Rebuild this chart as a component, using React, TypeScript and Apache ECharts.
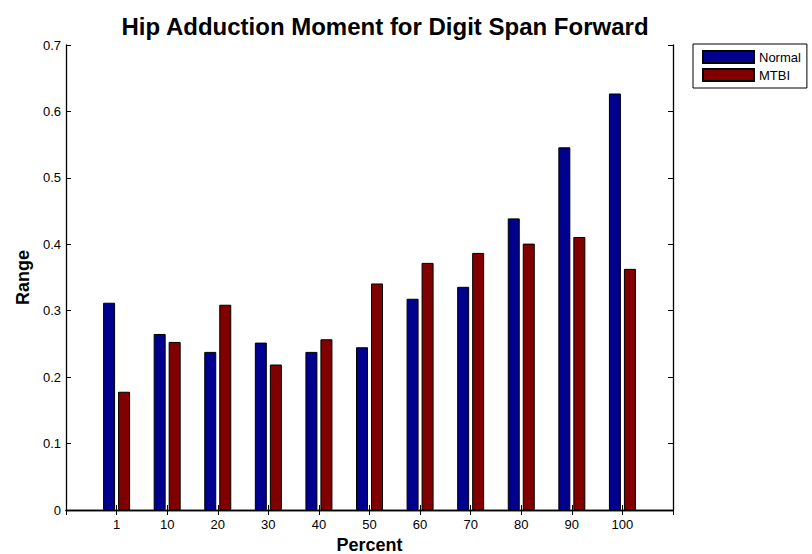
import React, { useEffect, useRef } from "react";
import * as echarts from "echarts";

const categories = ["1", "10", "20", "30", "40", "50", "60", "70", "80", "90", "100"];
const normalValues = [0.312, 0.265, 0.238, 0.252, 0.238, 0.245, 0.318, 0.336, 0.439, 0.546, 0.627];
const mtbiValues = [0.178, 0.253, 0.309, 0.219, 0.257, 0.341, 0.372, 0.387, 0.401, 0.411, 0.363];
const yTicks = [0, 0.1, 0.2, 0.3, 0.4, 0.5, 0.6, 0.7];

const FONT = "'Liberation Sans', Arial, sans-serif";

export default function App() {
  const ref = useRef<HTMLDivElement>(null);
  useEffect(() => {
    if (!ref.current) return;
    const chart = echarts.init(ref.current, null, { renderer: "svg" });
    const xCats = ["", ...categories, ""];
    const pad = (arr: number[]) => [null, ...arr, null];
    const axisLine = { show: true, lineStyle: { color: "#000", width: 1.3 } };
    const tick = { show: true, inside: true, length: 5, interval: 0, lineStyle: { color: "#000" } };
    chart.setOption({
      animation: false,
      backgroundColor: "#fff",
      textStyle: { fontFamily: FONT },
      title: {
        text: "Hip Adduction Moment for Digit Span Forward",
        left: 380,
        textAlign: "center",
        top: 9,
        textStyle: { fontFamily: FONT, fontSize: 24, fontWeight: "bold", color: "#000" },
      },
      legend: {
        orient: "vertical",
        left: 693,
        top: 44,
        itemWidth: 51,
        itemHeight: 12,
        itemGap: 4,
        padding: [6, 6, 6, 9],
        borderColor: "#000",
        borderWidth: 1,
        backgroundColor: "#fff",
        icon: "rect",
        textStyle: { fontFamily: FONT, fontSize: 13, color: "#000" },
        data: ["Normal", "MTBI"],
      },
      grid: { left: 66, right: 139, top: 45, bottom: 44, containLabel: false, outerBoundsMode: "none" },
      xAxis: [
        {
          type: "category",
          data: xCats,
          boundaryGap: false,
          axisLine,
          axisTick: tick,
          axisLabel: { interval: 0, color: "#000", fontSize: 13, fontFamily: FONT, margin: 8 },
          name: "Percent",
          nameLocation: "middle",
          nameGap: 25,
          nameTextStyle: { fontFamily: FONT, fontSize: 18, fontWeight: "bold", color: "#000" },
          splitLine: { show: false },
        },
        {
          type: "category",
          data: xCats,
          boundaryGap: false,
          position: "top",
          axisLine,
          axisTick: tick,
          axisLabel: { show: false },
          splitLine: { show: false },
        },
      ],
      yAxis: [
        {
          type: "value",
          min: 0,
          max: 0.7,
          interval: 0.1,
          axisLine,
          axisTick: { show: true, inside: true, length: 5, lineStyle: { color: "#000" } },
          axisLabel: {
            color: "#000",
            fontSize: 13,
            fontFamily: FONT,
            margin: 5,
            formatter: (v: number) => {
              const t = yTicks.find((y) => Math.abs(y - v) < 1e-9);
              return t === undefined ? "" : String(t);
            },
          },
          splitLine: { show: false },
          name: "Range",
          nameLocation: "middle",
          nameGap: 34,
          nameTextStyle: { fontFamily: FONT, fontSize: 18, fontWeight: "bold", color: "#000" },
        },
        {
          type: "value",
          min: 0,
          max: 0.7,
          interval: 0.1,
          position: "right",
          axisLine,
          axisTick: { show: true, inside: true, length: 5, lineStyle: { color: "#000" } },
          axisLabel: { show: false },
          splitLine: { show: false },
        },
      ],
      series: [
        {
          name: "Normal",
          type: "bar",
          data: pad(normalValues),
          barWidth: 12,
          barGap: "25%",
          itemStyle: { color: "#00008f", borderColor: "#000", borderWidth: 1 },
        },
        {
          name: "MTBI",
          type: "bar",
          data: pad(mtbiValues),
          barWidth: 12,
          barGap: "25%",
          itemStyle: { color: "#800000", borderColor: "#000", borderWidth: 1 },
        },
      ],
    });
    return () => chart.dispose();
  }, []);
  return (
    <div
      ref={ref}
      style={{ position: "fixed", left: 0, top: 0, width: 812, height: 554, background: "#fff" }}
    />
  );
}
